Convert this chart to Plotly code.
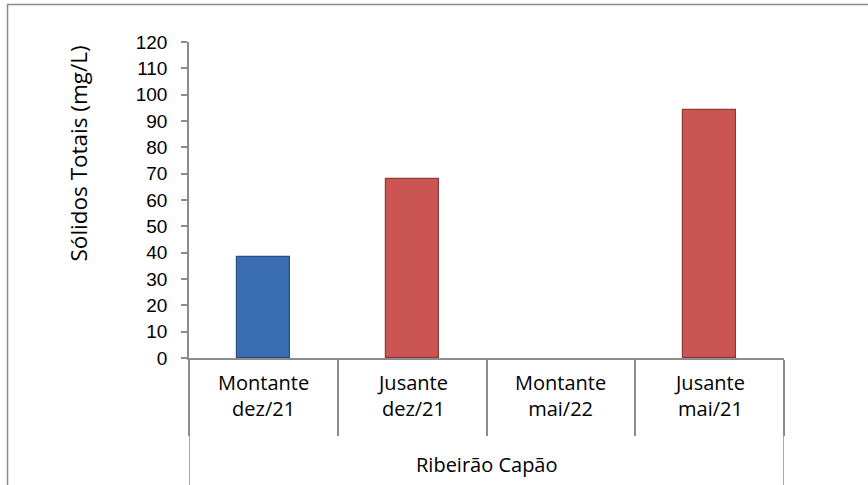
import plotly.graph_objects as go

# Data
group_label = "Ribeirão Capão"
categories = ["Montante<br>dez/21", "Jusante<br>dez/21", "Montante<br>mai/22", "Jusante<br>mai/21"]
values = [38.5, 68, None, 94]
bar_colors = ["#3B6DB2", "#CB5553", "#CB5553", "#CB5553"]
edge_colors = ["#2A4F85", "#8E3A38", "#8E3A38", "#8E3A38"]
y_title = "Sólidos Totais (mg/L)"
y_ticks = list(range(0, 121, 10))

positions = list(range(len(categories)))
grid_gray = "#8C8C8C"
label_font = dict(family="Open Sans, Lato, sans-serif", size=20, color="#000000")
title_font = dict(family="Open Sans, Lato, sans-serif", size=22.5, color="#000000")

fig = go.Figure()
fig.add_trace(go.Bar(
    x=positions,
    y=values,
    width=0.355,
    marker=dict(color=bar_colors, line=dict(color=edge_colors, width=1.2)),
    showlegend=False,
    hoverinfo="skip",
))

# Category labels below the axis
for pos, cat in zip(positions, categories):
    fig.add_annotation(x=pos, xref="x", y=-0.12, yref="paper", text=cat,
                       showarrow=False, font=label_font, yanchor="middle",
                       align="center")
fig.add_annotation(x=(positions[0] + positions[-1]) / 2, xref="x", y=-0.337,
                   yref="paper", text=group_label, showarrow=False,
                   font=label_font, yanchor="middle")

# Y axis title
fig.add_annotation(x=-0.185, xref="paper", y=0.647, yref="paper", text=y_title,
                   textangle=-90, showarrow=False, font=title_font,
                   xanchor="center", yanchor="middle")

# Outer group dividers running to the bottom
for xb in (positions[0] - 0.5, positions[-1] + 0.5):
    fig.add_shape(type="line", xref="x", yref="paper", x0=xb, x1=xb,
                  y0=0, y1=-0.45, line=dict(color=grid_gray, width=1.5))

# Chart frame
fig.add_shape(type="rect", xref="paper", yref="paper", x0=-0.305, x1=1.3,
              y0=-0.5, y1=1.119, line=dict(color=grid_gray, width=1.5))

fig.update_xaxes(
    range=[-0.5, len(categories) - 0.5],
    tickmode="array",
    tickvals=[p - 0.5 for p in positions] + [positions[-1] + 0.5],
    showticklabels=False,
    ticks="outside", ticklen=76, tickwidth=1.5, tickcolor=grid_gray,
    showline=True, linecolor=grid_gray, linewidth=1.5,
    showgrid=False, zeroline=False, fixedrange=True,
)
fig.update_yaxes(
    range=[0, 120],
    tickmode="array", tickvals=y_ticks,
    ticks="outside", ticklen=6, tickwidth=1.5, tickcolor=grid_gray,
    showline=True, linecolor=grid_gray, linewidth=1.5,
    showgrid=False, zeroline=False,
    tickfont=dict(family="Liberation Sans, Arial, sans-serif", size=19, color="#000000"),
    ticklabelstandoff=10,
)

fig.update_layout(
    width=868, height=485,
    margin=dict(l=189, r=84, t=42, b=127),
    paper_bgcolor="#FFFFFF", plot_bgcolor="#FFFFFF",
    bargap=0,
)

fig.write_html("out.html")
